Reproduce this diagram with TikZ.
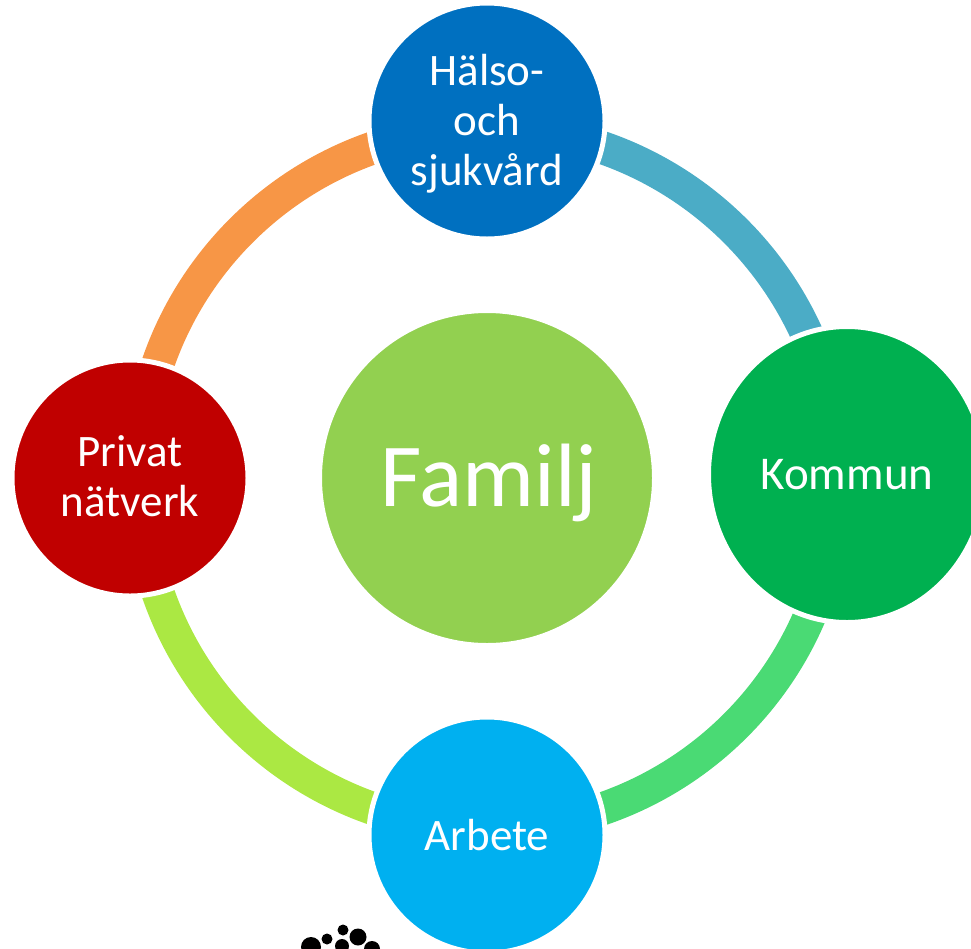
\documentclass[tikz,border=0pt]{standalone}
\usepackage{fontspec}
\setmainfont{Carlito}
\usetikzlibrary{calc,backgrounds,shapes.geometric}
\definecolor{cA}{HTML}{4BACC6}
\definecolor{cB}{HTML}{4ADA74}
\definecolor{cC}{HTML}{ABE843}
\definecolor{cD}{HTML}{F79646}
\definecolor{nTop}{HTML}{0070C0}
\definecolor{nRight}{HTML}{00B050}
\definecolor{nBottom}{HTML}{00B0F0}
\definecolor{nLeft}{HTML}{C00000}
\definecolor{nMid}{HTML}{92D050}
\tikzset{
  disc/.style={circle,draw=white,line width=5pt,inner sep=0pt,text=white,align=center,
    font=\fontsize{45}{50}\selectfont},
  seg/.style={line width=33pt,line cap=butt},
  dot/.style={fill=black,draw=none}
}
\begin{document}
\begin{tikzpicture}[x=1pt,y=-1pt]
\useasboundingbox (0,0) rectangle (971,948);
\clip (0,0) rectangle (971,948);
\node[disc,fill=nMid,minimum size=335pt,font=\fontsize{90}{90}\selectfont] (familj) at (487,478) {\hspace*{4pt}\rule{0pt}{72pt}Familj};
\node[disc,fill=nTop,minimum size=236pt] (halso) at (487,121) {\rule{0pt}{36pt}Hälso-\\och\\sjukvård};
\node[disc,ellipse,inner sep=0pt,fill=nRight,minimum width=277pt,minimum height=296pt,font=\fontsize{47}{50}\selectfont] (kommun) at (847,474.5) {Kommun};
\node[disc,fill=nBottom,minimum size=236pt] (arbete) at (487,835) {Arbete};
\node[disc,fill=nLeft,minimum size=236pt] (privat) at (130,478) {Privat\\nätverk\rule[-4pt]{0pt}{1pt}};
\begin{scope}[on background layer]
\draw[seg,cA] ($(halso.center)+(0,7.5)$) to[bend left=45] ($(kommun.center)+(-9,3)$);
\draw[seg,cB] ($(kommun.center)+(-9,3)$) to[bend left=45] ($(arbete.center)+(0,-7)$);
\draw[seg,cC] ($(arbete.center)+(0,-7)$) to[bend left=45] ($(privat.center)+(9,0)$);
\draw[seg,cD] ($(privat.center)+(9,0)$) to[bend left=45] ($(halso.center)+(0,7.5)$);
\end{scope}
\fill[dot] (311,947) circle (10);
\fill[dot] (327,939) circle (5.5);
\fill[dot] (343,930) circle (5.5);
\fill[dot] (358,937) circle (8.5);
\fill[dot] (342,946) circle (7);
\fill[dot] (372,949) circle (8);
\end{tikzpicture}
\end{document}
